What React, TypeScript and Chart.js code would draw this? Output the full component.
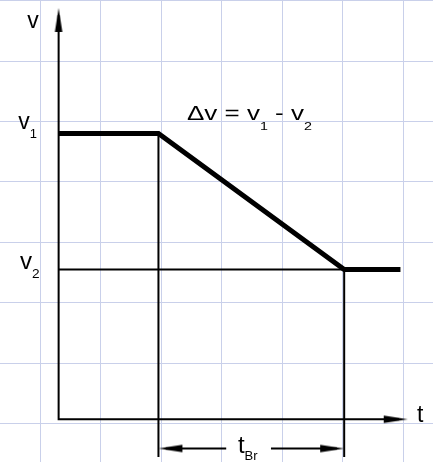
import React, { useEffect, useRef } from "react";
import { Chart, registerables } from "chart.js";

Chart.register(...registerables);

// Coordinates are in "paper grid" cells (t horizontal, v vertical)
const gridT = [0, 1, 2, 3, 4, 5, 6];
const gridV = [0, 1, 2, 3, 4, 5, 6, 7];
const tRange = [-0.669, 6.488];
const vRange = [-0.637, 7.012];

const tAxisPos = 0.3; // where the v axis stands
const vAxisPos = 0.07; // where the t axis lies
const tAxisTip = 6.07;
const vAxisTip = 6.88;

const v1 = 4.8;
const v2 = 2.55;
const tBrakeStart = 1.95;
const tBrakeEnd = 5.02;
const tProfileEnd = 5.95;

const profileT = [tAxisPos, tBrakeStart, tBrakeEnd, tProfileEnd];
const profileV = [v1, v1, v2, v2];

const dimV = -0.414;
const dimBottom = -0.555;
const dimGapT = [3.07, 3.81];
const arrowInset = 0.12;

const arrowT = [tAxisPos, tAxisTip, tBrakeStart, tBrakeEnd];
const arrowV = [vAxisTip, vAxisPos, dimV, dimV];
const arrowRot = [-90, 0, 180, 0];

type Part = { text: string; sub?: boolean };
type Label = { t: number; v: number; parts: Part[]; size: number; subSize: number; subDy: number; stretch: number };

const labels: Label[] = [
  { t: -0.218, v: 6.553, parts: [{ text: "v" }], size: 23, subSize: 13, subDy: 9, stretch: 1 },
  { t: -0.367, v: 4.871, parts: [{ text: "v" }, { text: "1", sub: true }], size: 23, subSize: 13, subDy: 9, stretch: 1 },
  { t: -0.339, v: 2.553, parts: [{ text: "v" }, { text: "2", sub: true }], size: 23, subSize: 13, subDy: 9, stretch: 1.05 },
  { t: 6.223, v: 0.02, parts: [{ text: "t" }], size: 23, subSize: 13, subDy: 9, stretch: 1 },
  {
    t: 2.421,
    v: 5.025,
    parts: [{ text: "Δv = v" }, { text: "1", sub: true }, { text: " - v" }, { text: "2", sub: true }],
    size: 20,
    subSize: 11,
    subDy: 10,
    stretch: 1.3,
  },
  { t: 3.264, v: -0.48, parts: [{ text: "t" }, { text: "Br", sub: true }], size: 24, subSize: 13, subDy: 7.5, stretch: 1 },
];

const gridColor = "#c9d0ea";
const ink = "#000000";
const FONT = '"Liberation Sans", Arial, Helvetica, sans-serif';

function makeArrow(len: number, half: number): HTMLCanvasElement {
  const c = document.createElement("canvas");
  c.width = len * 2 + 2;
  c.height = Math.ceil(half * 2) + 2;
  const g = c.getContext("2d")!;
  const cx = c.width / 2;
  const cy = c.height / 2;
  g.fillStyle = ink;
  g.beginPath();
  g.moveTo(cx, cy);
  g.lineTo(cx - len, cy - half);
  g.lineTo(cx - len, cy + half);
  g.closePath();
  g.fill();
  return c;
}

const pts = (ts: number[], vs: number[]) => ts.map((t, i) => ({ x: t, y: vs[i] }));

const labelPlugin = {
  id: "diagramLabels",
  afterDatasetsDraw(chart: any) {
    const ctx: CanvasRenderingContext2D = chart.ctx;
    const xs = chart.scales.x;
    const ys = chart.scales.y;
    ctx.save();
    ctx.fillStyle = ink;
    ctx.textBaseline = "alphabetic";
    ctx.textAlign = "left";
    for (const l of labels) {
      const px = xs.getPixelForValue(l.t);
      const py = ys.getPixelForValue(l.v);
      ctx.save();
      ctx.translate(px, py);
      ctx.scale(l.stretch, 1);
      let cx = 0;
      for (const p of l.parts) {
        ctx.font = `${p.sub ? l.subSize : l.size}px ${FONT}`;
        ctx.fillText(p.text, cx, p.sub ? l.subDy : 0);
        cx += ctx.measureText(p.text).width;
      }
      ctx.restore();
    }
    ctx.restore();
  },
};

export default function App() {
  const ref = useRef<HTMLCanvasElement | null>(null);

  useEffect(() => {
    if (!ref.current) return;
    const arrow = makeArrow(24, 3.8);
    const thin = { showLine: true, borderColor: ink, borderWidth: 2, pointRadius: 0, fill: false };

    const chart = new Chart(ref.current, {
      type: "scatter",
      data: {
        datasets: [
          {
            ...thin,
            label: "axes",
            data: [
              { x: tAxisPos, y: vAxisTip - arrowInset },
              { x: tAxisPos, y: vAxisPos },
              { x: tAxisTip - arrowInset * 1.2, y: vAxisPos },
            ],
          },
          {
            ...thin,
            label: "v2 level",
            data: pts([tAxisPos, tBrakeEnd], [v2, v2]),
          },
          {
            ...thin,
            label: "brake start",
            data: pts([tBrakeStart, tBrakeStart], [v1, dimBottom]),
          },
          {
            ...thin,
            label: "brake end",
            data: pts([tBrakeEnd, tBrakeEnd], [v2, dimBottom]),
          },
          {
            ...thin,
            label: "dim left",
            data: pts([tBrakeStart + arrowInset, dimGapT[0]], [dimV, dimV]),
          },
          {
            ...thin,
            label: "dim right",
            data: pts([dimGapT[1], tBrakeEnd - arrowInset], [dimV, dimV]),
          },
          {
            label: "profile",
            showLine: true,
            borderColor: ink,
            borderWidth: 5,
            pointRadius: 0,
            fill: false,
            borderJoinStyle: "miter",
            data: pts(profileT, profileV),
          },
          {
            label: "arrows",
            showLine: false,
            data: pts(arrowT, arrowV),
            pointStyle: arrow as any,
            pointRadius: 1,
            pointRotation: arrowRot,
          } as any,
        ],
      },
      options: {
        animation: false,
        responsive: false,
        events: [],
        layout: { padding: 0, autoPadding: false },
        plugins: { legend: { display: false }, tooltip: { enabled: false } },
        scales: {
          x: {
            type: "linear",
            min: tRange[0],
            max: tRange[1],
            grid: { color: gridColor, lineWidth: 1, drawTicks: false },
            border: { display: false },
            ticks: { display: false },
            afterBuildTicks: (axis: any) => {
              axis.ticks = gridT.map((value) => ({ value }));
            },
          },
          y: {
            type: "linear",
            min: vRange[0],
            max: vRange[1],
            grid: { color: gridColor, lineWidth: 1, drawTicks: false },
            border: { display: false },
            ticks: { display: false },
            afterBuildTicks: (axis: any) => {
              axis.ticks = gridV.map((value) => ({ value }));
            },
          },
        },
      },
      plugins: [labelPlugin],
    } as any);

    return () => chart.destroy();
  }, []);

  return (
    <canvas
      ref={ref}
      width={433}
      height={462}
      style={{ position: "fixed", left: 0, top: 0, width: 433, height: 462, background: "#ffffff" }}
    />
  );
}
